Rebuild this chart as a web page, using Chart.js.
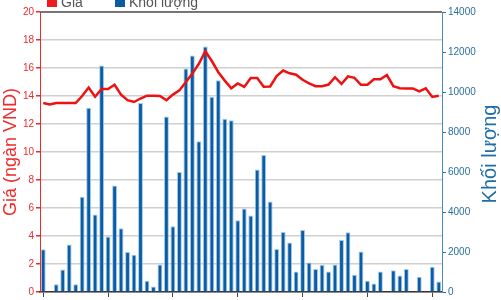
<!DOCTYPE html>
<html>
<head>
<meta charset="utf-8">
<script src="https://cdn.jsdelivr.net/npm/chart.js@4/dist/chart.umd.min.js"></script>
<style>
	body { margin: 0; background: #fff; }
	canvas { display: block; }
</style>
</head>
<body>
<canvas id="chart-price" width="501" height="300"></canvas>
<script>
// Giá (ngàn VND), one point per session
var price = [
	13.5, 13.4, 13.5, 13.5, 13.5, 13.5, 14.0, 14.6, 13.95, 14.5,
	14.5, 14.8, 14.1, 13.7, 13.57, 13.82, 14.02, 14.02, 14.0, 13.7,
	14.1, 14.4, 15.0, 15.6, 16.3, 17.2, 16.5, 15.7, 15.1, 14.55,
	14.9, 14.65, 15.28, 15.28, 14.66, 14.68, 15.42, 15.82, 15.62, 15.52,
	15.16, 14.9, 14.7, 14.7, 14.82, 15.34, 14.86, 15.4, 15.3, 14.8,
	14.8, 15.2, 15.2, 15.5, 14.7, 14.55, 14.54, 14.54, 14.33, 14.55,
	13.93, 14.02
];

// Khối lượng
var volume = [
	2140, 0, 390, 1120, 2380, 390, 4760, 9210, 3870, 11320,
	2770, 5320, 3190, 2000, 1860, 9450, 560, 280, 1370, 8780,
	3290, 6000, 11170, 11820, 7540, 12270, 9760, 10590, 8660, 8590,
	3590, 4180, 3820, 6120, 6850, 4520, 2150, 3000, 2480, 1030,
	3100, 1480, 1150, 1360, 1020, 1370, 2600, 2990, 860, 2020,
	560, 430, 1030, 0, 1090, 820, 1150, 0, 760, 0,
	1260, 520
];

// sessions have no printed labels, only a tick every 10th one
var sessions = volume.map(function(v, i) {
	return i + 1;
});

var legendItems = [
	{ text: "Giá", color: "#ee1c1c", x: 47 },
	{ text: "Khối lượng", color: "#0b5ca3", x: 115 }
];

var RED = "#ee2a2a";
var BLUE = "#2a6f9f";

var extras = {
	id: "extras",
	afterDraw: function(chart) {
		var ctx = chart.ctx;
		var area = chart.chartArea;
		ctx.save();

		// top frame line
		ctx.strokeStyle = "#555";
		ctx.lineWidth = 1.5;
		ctx.beginPath();
		ctx.moveTo(area.left, area.top);
		ctx.lineTo(area.right, area.top);
		ctx.stroke();

		// legend, its top is cut by the picture edge
		ctx.font = "14px 'Liberation Sans', Arial, sans-serif";
		ctx.textBaseline = "alphabetic";
		for (var i = 0; i < legendItems.length; ++i) {
			var item = legendItems[i];
			ctx.fillStyle = item.color;
			ctx.fillRect(item.x, -3, 10, 10);
			ctx.fillStyle = "#555";
			ctx.fillText(item.text, item.x + 14, 6.5);
		}

		// axis titles, both read bottom to top
		var midY = (area.top + area.bottom) / 2;
		ctx.textAlign = "center";
		ctx.textBaseline = "middle";

		ctx.save();
		ctx.translate(11, midY);
		ctx.rotate(-Math.PI / 2);
		ctx.fillStyle = RED;
		ctx.font = "18px 'Liberation Sans', Arial, sans-serif";
		ctx.fillText("Giá (ngàn VND)", 0, 0);
		ctx.restore();

		ctx.save();
		ctx.translate(490, midY + 2);
		ctx.rotate(-Math.PI / 2);
		ctx.fillStyle = "#1f6ea6";
		ctx.font = "20px 'Liberation Sans', Arial, sans-serif";
		ctx.fillText("Khối lượng", 0, 0);
		ctx.restore();

		ctx.restore();
	}
};

var ctx = document.getElementById("chart-price").getContext("2d");

var chart = new Chart(ctx, {
	type: "bar",
	data: {
		labels: sessions,
		datasets: [
			{
				type: "line",
				label: "Giá",
				data: price,
				yAxisID: "yPrice",
				borderColor: "#ee1111",
				borderWidth: 2.5,
				pointRadius: 0,
				tension: 0,
				order: 0
			},
			{
				type: "bar",
				label: "Khối lượng",
				data: volume,
				yAxisID: "yVolume",
				backgroundColor: "#0b5ca3",
				borderColor: "rgba(150,195,235,0.9)",
				borderWidth: 1,
				borderSkipped: "bottom",
				categoryPercentage: 1,
				barPercentage: 0.75,
				order: 1
			}
		]
	},
	options: {
		responsive: false,
		animation: false,
		layout: { padding: { top: 12, left: 0, right: 0, bottom: 0 } },
		plugins: {
			legend: { display: false },
			tooltip: { enabled: false }
		},
		scales: {
			x: {
				offset: true,
				grid: {
					offset: false,
					drawOnChartArea: false,
					drawTicks: true,
					tickLength: 5,
					tickColor: function(c) {
						return c.index % 10 == 0 ? "#444" : "rgba(0,0,0,0)";
					}
				},
				border: { color: "#333", width: 1.5 },
				ticks: { display: false, autoSkip: false },
				afterFit: function(scale) {
					scale.height = 7;
				}
			},
			yPrice: {
				position: "left",
				min: 0,
				max: 20,
				ticks: {
					stepSize: 2,
					color: RED,
					padding: 2,
					font: { family: "'Liberation Sans', Arial, sans-serif", size: 10 }
				},
				grid: {
					color: "#d0d0d0",
					lineWidth: 1.5,
					tickLength: 4,
					tickColor: RED
				},
				border: { color: RED, width: 1 },
				afterFit: function(scale) {
					scale.width = 40;
				}
			},
			yVolume: {
				position: "right",
				min: 0,
				max: 14000,
				ticks: {
					stepSize: 2000,
					color: BLUE,
					padding: 2,
					font: { family: "'Liberation Sans', Arial, sans-serif", size: 10 },
					callback: function(value) {
						return String(value);
					}
				},
				grid: {
					drawOnChartArea: false,
					tickLength: 4,
					tickColor: BLUE
				},
				border: { color: "#4a8cbf", width: 1 },
				afterFit: function(scale) {
					scale.width = 59;
				}
			}
		}
	},
	plugins: [extras]
});
</script>
</body>
</html>
